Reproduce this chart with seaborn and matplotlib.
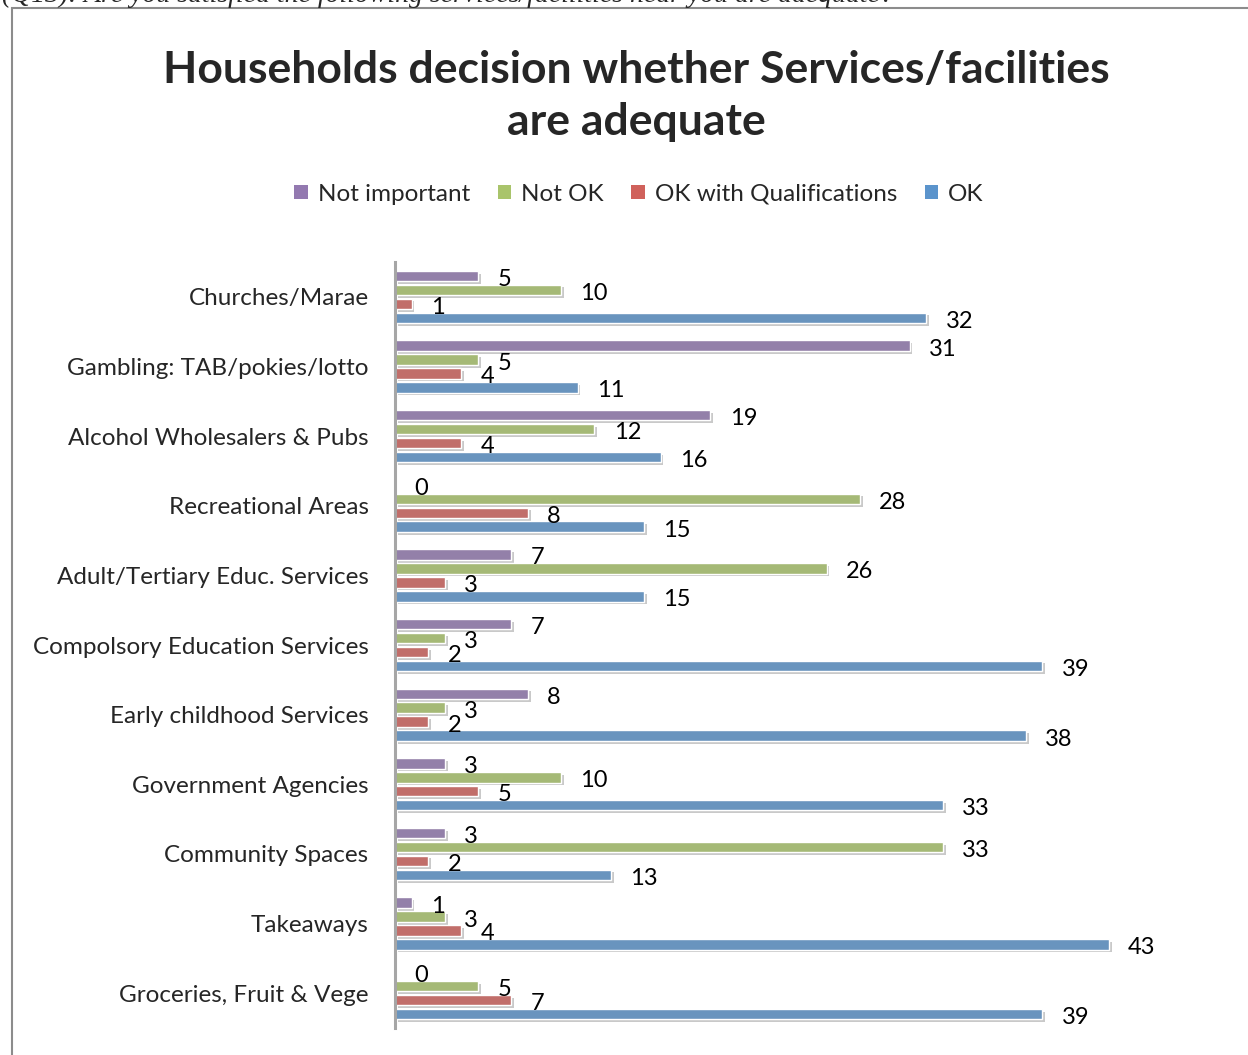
import pandas as pd
import seaborn as sns
import matplotlib.pyplot as plt
import matplotlib.patheffects as pe
from matplotlib.patches import Rectangle, Patch

categories = ['Churches/Marae', 'Gambling: TAB/pokies/lotto', 'Alcohol Wholesalers & Pubs',
              'Recreational Areas', 'Adult/Tertiary Educ. Services', 'Compolsory Education Services',
              'Early childhood Services', 'Government Agencies', 'Community Spaces',
              'Takeaways', 'Groceries, Fruit & Vege']
not_important = [5, 31, 19, 0, 7, 7, 8, 3, 3, 1, 0]
not_ok = [10, 5, 12, 28, 26, 3, 3, 10, 33, 3, 5]
ok_qual = [1, 4, 4, 8, 3, 2, 2, 5, 2, 4, 7]
ok = [32, 11, 16, 15, 15, 39, 38, 33, 13, 43, 39]
series = ['Not important', 'Not OK', 'OK with Qualifications', 'OK']
colors = ['#9379B0', '#A9C46B', '#D0615B', '#5B94CC']

rows = []
for name, vals in zip(series, [not_important, not_ok, ok_qual, ok]):
    for c, v in zip(categories, vals):
        rows.append({'Service': c, 'Status': name, 'Count': v})
df = pd.DataFrame(rows)

sns.set_style('white')
plt.rcParams['font.family'] = ['Lato', 'DejaVu Sans']

fig = plt.figure(figsize=(12.48, 10.55), dpi=100)
ax = fig.add_axes([0.3165, 0.0256, 0.665, 0.726])

sns.barplot(data=df, y='Service', x='Count', hue='Status', hue_order=series,
            palette=colors, orient='h', width=0.8, gap=0.25, ax=ax,
            edgecolor='white', linewidth=1.0, legend=False)

shadow = [pe.SimplePatchShadow(offset=(2, -2), shadow_rgbFace='#888888', alpha=0.45), pe.Normal()]
for cont in ax.containers:
    for bar in cont:
        bar.set_path_effects(shadow)
        ax.annotate('%d' % round(bar.get_width()),
                    (bar.get_width(), bar.get_y() + bar.get_height() / 2),
                    xytext=(14, -2.5), textcoords='offset points',
                    ha='left', va='center', fontsize=17, color='black')

ax.set_xlim(0, 50)
ax.set_ylim(10.5, -0.5)
ax.set_xlabel('')
ax.set_ylabel('')
ax.set_xticks([])
ax.tick_params(axis='y', length=0, pad=19, labelsize=17.5)
for s in ['top', 'right', 'bottom']:
    ax.spines[s].set_visible(False)
ax.spines['left'].set_color('#A6A6A6')
ax.spines['left'].set_linewidth(2.2)

fig.text(0.51, 0.909, 'Households decision whether Services/facilities\nare adequate',
         ha='center', va='center', fontsize=32, fontweight='bold', linespacing=1.38)

handles = [Patch(facecolor=c, edgecolor='none') for c in colors]
fig.legend(handles, series, loc='center', bbox_to_anchor=(0.512, 0.816), ncol=4,
           frameon=False, fontsize=17.5, handlelength=0.55, handleheight=0.55,
           handletextpad=0.4, columnspacing=1.15)

fig.patches.append(Rectangle((12 / 1248, -0.01), 1.2, 1 - 8 / 1055 + 0.01,
                             transform=fig.transFigure, fill=False,
                             edgecolor='#8C8C8C', linewidth=1.5))
fig.text(0.002, 0.9985, '(Q13): Are you satisfied the following services/facilities near you are adequate?',
         ha='left', va='baseline', fontsize=20, style='italic', family='Liberation Serif')

fig.savefig('out.png', dpi=100)
